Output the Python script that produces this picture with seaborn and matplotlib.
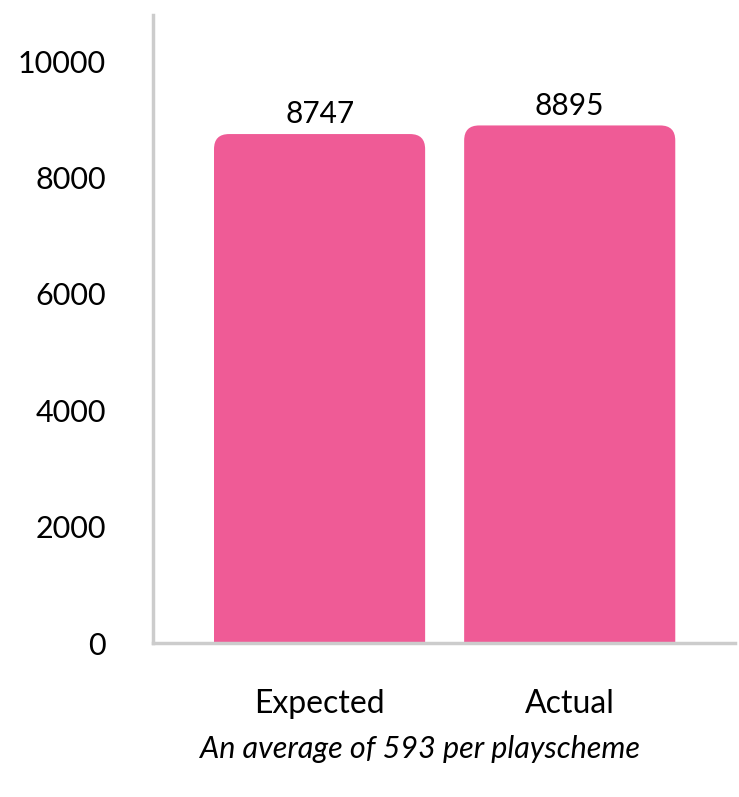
import matplotlib
matplotlib.use("Agg")
import matplotlib.pyplot as plt
from matplotlib.patches import FancyBboxPatch
import pandas as pd
import seaborn as sns

categories = ["Expected", "Actual"]
values = [8747, 8895]
yticks = [0, 2000, 4000, 6000, 8000, 10000]
caption = "An average of 593 per playscheme"

pink = "#EF5B96"
grey = "#CCCCCC"

sns.set_theme(style="white")
plt.rcParams["font.family"] = ["Lato", "DejaVu Sans"]
plt.rcParams["text.color"] = "black"
plt.rcParams["xtick.color"] = "black"
plt.rcParams["ytick.color"] = "black"

df = pd.DataFrame({"cat": categories, "val": values})

fig = plt.figure(figsize=(7.39, 7.97), dpi=100)
ax = fig.add_axes([0.207, 0.193, 0.788, 0.788])

sns.barplot(data=df, x="cat", y="val", color=pink, width=0.844,
            saturation=1, ax=ax)

ax.set_xlim(-0.666, 1.662)
ax.set_ylim(0, 10790)

# swap the plain bars for ones with rounded tops
rx = 0.06
ry = 258
for p in list(ax.patches):
    x0, w, h = p.get_x(), p.get_width(), p.get_height()
    p.remove()
    box = FancyBboxPatch((x0, -ry * 2), w, h + ry * 2,
                         boxstyle=f"round,pad=0,rounding_size={rx}",
                         mutation_aspect=ry / rx,
                         fc=pink, ec="none", zorder=2)
    ax.add_patch(box)

for i, v in enumerate(values):
    ax.text(i, v + 100, str(v), ha="center", va="bottom", fontsize=21.5,
            color="black")

ax.set_yticks(yticks)
ax.set_yticklabels([str(t) for t in yticks])
ax.tick_params(axis="both", length=0, labelsize=22, labelcolor="black")
ax.tick_params(axis="y", pad=34)
ax.tick_params(axis="x", pad=33, labelsize=23)
ax.set_xlabel("")
ax.set_ylabel("")

for s in ["top", "right"]:
    ax.spines[s].set_visible(False)
for s in ["left", "bottom"]:
    ax.spines[s].set_color(grey)
    ax.spines[s].set_linewidth(2.5)
    ax.spines[s].set_zorder(3)

fig.text(420 / 739, 1 - 749 / 797, caption, ha="center", va="center",
         fontsize=22, style="italic", color="black")

fig.savefig("out.png", dpi=100)
